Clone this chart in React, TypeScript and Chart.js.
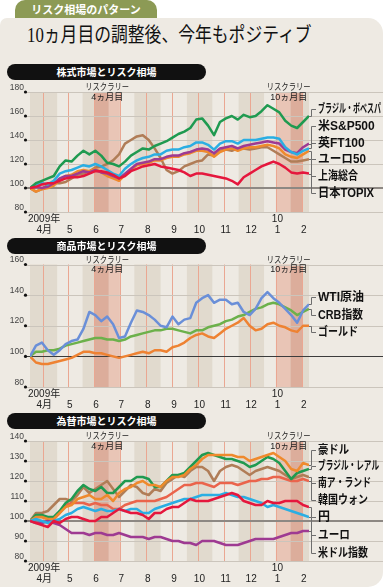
import React, { useEffect, useRef } from 'react';
import { Chart, registerables } from 'chart.js';
Chart.register(...registerables);

// ---------- data ----------
const weekDates = [
  '2009-03-17', '2009-03-24', '2009-03-31', '2009-04-07', '2009-04-14', '2009-04-21', '2009-04-28',
  '2009-05-05', '2009-05-12', '2009-05-19', '2009-05-26', '2009-06-02', '2009-06-09', '2009-06-16',
  '2009-06-23', '2009-06-30', '2009-07-07', '2009-07-14', '2009-07-21', '2009-07-28', '2009-08-04',
  '2009-08-11', '2009-08-18', '2009-08-25', '2009-09-01', '2009-09-08', '2009-09-15', '2009-09-22',
  '2009-09-29', '2009-10-06', '2009-10-13', '2009-10-20', '2009-10-27', '2009-11-03', '2009-11-10',
  '2009-11-17', '2009-11-24', '2009-12-01', '2009-12-08', '2009-12-15', '2009-12-22', '2009-12-29',
  '2010-01-05', '2010-01-12', '2010-01-19', '2010-01-26', '2010-02-02', '2010-02-09',
];

// 株式市場
const stockNames = ['ブラジル・ボベスパ', '米S&P500', '英FT100', 'ユーロ50', '上海総合', '日本TOPIX'];
const bovespa = [100, 104, 106, 108, 110, 118, 123, 122, 127, 131, 128, 131, 127, 121, 120, 118, 122, 127, 130, 133, 132, 135, 137, 139, 142, 145, 147, 150, 157, 158, 152, 144, 155, 158, 160, 157, 161, 159, 160, 164, 169, 166, 163, 156, 152, 150, 155, 160];
const sp500 = [100, 103, 104, 103, 106, 112, 114, 115, 117, 119, 118, 120, 118, 115, 112, 110, 116, 120, 123, 125, 126, 128, 128, 131, 132, 132, 134, 135, 138, 138, 136, 132, 137, 139, 139, 137, 140, 140, 140, 141, 142, 142, 141, 134, 130, 128, 131, 133];
const ft100 = [100, 101, 100, 101, 104, 108, 110, 110, 112, 114, 113, 115, 113, 112, 110, 108, 112, 116, 120, 121, 122, 124, 124, 126, 127, 127, 129, 130, 132, 133, 132, 129, 133, 134, 135, 133, 135, 136, 137, 138, 139, 138, 137, 132, 130, 129, 134, 137];
const euro50 = [100, 97, 99, 100, 102, 107, 110, 111, 114, 115, 114, 116, 113, 110, 108, 106, 111, 115, 119, 120, 121, 123, 123, 125, 126, 126, 128, 129, 131, 131, 130, 126, 130, 132, 133, 131, 133, 134, 134, 135, 136, 135, 133, 128, 126, 125, 128, 131];
const shanghai = [100, 97, 99, 103, 104, 104, 105, 108, 111, 112, 114, 117, 118, 120, 123, 128, 137, 140, 143, 144, 140, 133, 125, 115, 112, 114, 118, 120, 122, 123, 128, 127, 131, 132, 131, 133, 133, 132, 133, 134, 134, 131, 128, 125, 122, 122, 123, 124];
const topix = [100, 101, 103, 104, 104, 106, 108, 109, 109, 110, 112, 114, 114, 113, 111, 108, 110, 114, 116, 118, 119, 120, 118, 117, 116, 115, 113, 110, 112, 112, 111, 110, 109, 108, 106, 103, 109, 112, 115, 118, 120, 122, 120, 117, 113, 112, 113, 112];

// 商品市場
const commodityNames = ['WTI原油', 'CRB指数', 'ゴールド'];
const wti = [100, 107, 109, 104, 101, 104, 108, 110, 111, 118, 129, 127, 123, 126, 121, 112, 113, 122, 130, 129, 127, 124, 120, 119, 126, 121, 124, 125, 135, 138, 140, 135, 137, 137, 134, 135, 129, 127, 131, 138, 142, 138, 135, 131, 127, 122, 130, 134];
const crb = [100, 103, 103, 104, 104, 105, 107, 108, 109, 110, 111, 112, 112, 111, 111, 110, 111, 113, 114, 115, 116, 117, 117, 118, 118, 117, 116, 115, 117, 117, 119, 120, 121, 123, 124, 126, 127, 129, 131, 132, 134, 135, 134, 132, 130, 127, 129, 131];
const gold = [100, 96, 95, 95, 96, 97, 98, 99, 101, 103, 103, 102, 102, 101, 100, 99, 100, 101, 102, 103, 102, 104, 104, 103, 106, 107, 109, 112, 114, 115, 113, 112, 115, 118, 120, 122, 125, 120, 117, 118, 121, 122, 120, 119, 117, 116, 120, 120];

// 為替市場
const fxNames = ['豪ドル', 'ブラジル・レアル', '南ア・ランド', '韓国ウォン', '円', 'ユーロ', '米ドル指数'];
const aud = [100, 102, 102, 101, 101, 104, 107, 108, 111, 112, 113, 111, 111, 113, 110, 114, 116, 117, 119, 120, 118, 118, 117, 120, 122, 122, 123, 126, 128, 131, 133, 133, 133, 133, 133, 132, 132, 130, 131, 132, 133, 134, 132, 130, 126, 125, 129, 128];
const brl = [100, 103, 103, 102, 102, 105, 109, 111, 115, 118, 116, 115, 117, 114, 114, 117, 120, 120, 122, 122, 121, 117, 117, 120, 123, 123, 124, 127, 130, 133, 134, 133, 132, 131, 131, 130, 129, 127, 128, 130, 132, 131, 129, 125, 121, 124, 125, 126];
const zar = [100, 104, 104, 105, 108, 111, 111, 110, 113, 117, 114, 116, 118, 120, 116, 112, 115, 118, 117, 114, 113, 116, 115, 119, 121, 123, 122, 125, 127, 127, 125, 120, 125, 127, 128, 127, 125, 123, 125, 126, 127, 126, 125, 123, 121, 122, 123, 122];
const krw = [100, 102, 102, 101, 101, 104, 108, 109, 109, 109, 108, 109, 108, 108, 106, 106, 108, 109, 110, 110, 110, 110, 111, 112, 114, 116, 118, 118, 119, 119, 118, 117, 119, 119, 119, 118, 119, 120, 120, 121, 121, 122, 122, 121, 120, 120, 121, 120];
const jpy = [100, 99, 98, 97, 100, 99, 101, 102, 102, 101, 100, 100, 102, 102, 104, 106, 105, 104, 104, 103, 101, 104, 104, 106, 107, 107, 109, 111, 110, 110, 110, 111, 112, 113, 114, 113, 110, 109, 108, 108, 110, 109, 109, 110, 110, 110, 108, 107];
const eur = [100, 101, 100, 99, 100, 101, 103, 104, 106, 107, 106, 105, 106, 105, 105, 106, 105, 106, 106, 104, 104, 106, 107, 108, 109, 110, 111, 111, 112, 113, 113, 113, 113, 114, 113, 112, 112, 111, 110, 109, 107, 108, 107, 106, 105, 104, 103, 102];
const usdIndex = [100, 99, 99, 100, 99, 98, 96, 94, 94, 94, 93, 94, 94, 93, 93, 94, 93, 92, 92, 92, 91, 92, 92, 91, 90, 90, 89, 89, 88, 90, 90, 90, 89, 88, 88, 88, 89, 90, 91, 91, 91, 91, 92, 93, 94, 94, 95, 95];

// axis labels
const monthTickDates = ['2009-04-01', '2009-05-01', '2009-06-01', '2009-07-01', '2009-08-01', '2009-09-01', '2009-10-01', '2009-11-01', '2009-12-01', '2010-01-01', '2010-02-01'];
const monthTickLabels = ['4月', '5', '6', '7', '8', '9', '10', '11', '12', '1', '2'];
const yearLabel = '2009年';
const nextYearLabel = '10';
const nextYearDate = '2010-01-01';

// shaded periods
const bandStarts = ['2009-03-17', '2009-05-18', '2009-06-01', '2009-06-18', '2009-07-18', '2009-09-18', '2009-11-18', '2010-01-01', '2010-01-18', '2010-02-01'];
const bandEnds = ['2009-04-18', '2009-06-01', '2009-06-18', '2009-07-01', '2009-08-18', '2009-10-18', '2009-12-18', '2010-01-18', '2010-02-01', '2010-02-09'];
const bandKinds = ['tan', 'tan', 'rallyDark', 'rallyLight', 'tan', 'tan', 'tan', 'rallyLight', 'rallyDark', 'tan'];

const rallyTitle = 'リスクラリー';
const rallyDates = ['2009-06-16', '2010-01-16'];
const rallyMonths = ['4ヵ月目', '10ヵ月目'];

// ---------- styling ----------
const CJK = '"Noto Sans CJK JP", "Noto Sans", sans-serif';
const LAT = '"Liberation Sans", Arial, "Noto Sans CJK JP", sans-serif';
const BAND_COLORS: Record<string, string> = { tan: '#e1dace', rallyDark: '#dcad9b', rallyLight: '#e9c5b6' };
const CARD = '#eeeae3';

const dayOf = (s: string) => {
  const [y, m, d] = s.split('-').map(Number);
  return (Date.UTC(y, m - 1, d) - Date.UTC(2009, 3, 1)) / 86400000;
};

type Series = { name: string; values: number[]; color: string; order: number; labelWidth: number };
type Panel = {
  title: string; pillTop: number; top: number; height: number; padTop: number; padBottom: number;
  yMin: number; yMax: number; yStep: number; baseColor: string; baseWidth: number;
  labelYs: number[]; series: Series[];
};

const panels: Panel[] = [
  {
    title: '株式市場とリスク相場', pillTop: 64, top: 80, height: 155, padTop: 12, padBottom: 23,
    yMin: 80, yMax: 180, yStep: 20, baseColor: '#8d8883', baseWidth: 2,
    labelYs: [109, 126, 143, 159, 176, 193],
    series: [
      { name: stockNames[0], values: bovespa, color: '#1f9a50', order: 1, labelWidth: 63 },
      { name: stockNames[1], values: sp500, color: '#2aaee3', order: 2, labelWidth: 58 },
      { name: stockNames[2], values: ft100, color: '#9e3a92', order: 3, labelWidth: 53 },
      { name: stockNames[3], values: euro50, color: '#ef8a2d', order: 4, labelWidth: 48 },
      { name: stockNames[4], values: shanghai, color: '#b07d57', order: 5, labelWidth: 40 },
      { name: stockNames[5], values: topix, color: '#e5173d', order: 0, labelWidth: 56 },
    ],
  },
  {
    title: '商品市場とリスク相場', pillTop: 238, top: 252, height: 158, padTop: 12.5, padBottom: 23,
    yMin: 80, yMax: 160, yStep: 20, baseColor: '#3c3c3c', baseWidth: 1,
    labelYs: [297, 315, 332],
    series: [
      { name: commodityNames[0], values: wti, color: '#6a8fd8', order: 0, labelWidth: 46 },
      { name: commodityNames[1], values: crb, color: '#6cb14b', order: 1, labelWidth: 45 },
      { name: commodityNames[2], values: gold, color: '#ee8232', order: 2, labelWidth: 40 },
    ],
  },
  {
    title: '為替市場とリスク相場', pillTop: 413, top: 429, height: 158, padTop: 12, padBottom: 26,
    yMin: 80, yMax: 140, yStep: 10, baseColor: '#8d8883', baseWidth: 2,
    labelYs: [450, 466, 483, 500, 517, 535, 553],
    series: [
      { name: fxNames[0], values: aud, color: '#ef8a2d', order: 3, labelWidth: 31 },
      { name: fxNames[1], values: brl, color: '#1f9a50', order: 4, labelWidth: 61 },
      { name: fxNames[2], values: zar, color: '#b07d57', order: 5, labelWidth: 53 },
      { name: fxNames[3], values: krw, color: '#ea644c', order: 6, labelWidth: 50 },
      { name: fxNames[4], values: jpy, color: '#e5173d', order: 0, labelWidth: 13 },
      { name: fxNames[5], values: eur, color: '#2aaee3', order: 1, labelWidth: 32 },
      { name: fxNames[6], values: usdIndex, color: '#9e3a92', order: 2, labelWidth: 50 },
    ],
  },
];

function decorPlugin(panel: Panel) {
  return {
    id: 'decor',
    beforeDatasetsDraw(chart: any) {
      const { ctx, chartArea: a, scales } = chart;
      const x = scales.x, y = scales.y;
      ctx.save();
      for (let i = 0; i < bandStarts.length; i++) {
        const x1 = x.getPixelForValue(dayOf(bandStarts[i]));
        const x2 = x.getPixelForValue(dayOf(bandEnds[i]));
        ctx.fillStyle = BAND_COLORS[bandKinds[i]];
        ctx.fillRect(x1, a.top, x2 - x1, a.bottom - a.top);
      }
      ctx.strokeStyle = '#eaa792';
      ctx.lineWidth = 1;
      for (const d of monthTickDates) {
        const px = Math.round(x.getPixelForValue(dayOf(d))) + 0.5;
        ctx.beginPath(); ctx.moveTo(px, a.top); ctx.lineTo(px, a.bottom); ctx.stroke();
      }
      for (let v = panel.yMin; v <= panel.yMax; v += panel.yStep) {
        const py = y.getPixelForValue(v);
        const base = v === 100;
        ctx.strokeStyle = base ? panel.baseColor : '#cbc5bc';
        ctx.lineWidth = base ? panel.baseWidth : 1;
        const yy = base && panel.baseWidth > 1.5 ? Math.round(py) : Math.round(py) + 0.5;
        ctx.beginPath(); ctx.moveTo(25, yy); ctx.lineTo(383, yy); ctx.stroke();
        ctx.fillStyle = '#111';
        ctx.beginPath(); ctx.arc(25.5, py, 1.6, 0, Math.PI * 2); ctx.fill();
        ctx.fillStyle = '#444';
        ctx.font = '8.5px ' + LAT;
        ctx.textAlign = 'right';
        ctx.textBaseline = 'alphabetic';
        ctx.fillText(String(v), 24, py - 2.5);
      }
      ctx.fillStyle = '#222';
      ctx.font = '10px ' + LAT;
      ctx.textBaseline = 'middle';
      ctx.textAlign = 'left';
      ctx.fillText(yearLabel, 28, a.bottom + 7.5);
      ctx.textAlign = 'center';
      ctx.fillText(nextYearLabel, x.getPixelForValue(dayOf(nextYearDate)) + 1.5, a.bottom + 7.5);
      monthTickDates.forEach((d, i) => {
        ctx.fillText(monthTickLabels[i], x.getPixelForValue(dayOf(d)) + 1.5, a.bottom + 18);
      });
      ctx.restore();
    },
    afterDatasetsDraw(chart: any) {
      const { ctx, chartArea: a, scales } = chart;
      const x = scales.x, y = scales.y;
      ctx.save();
      ctx.fillStyle = '#222';
      ctx.textAlign = 'center';
      ctx.textBaseline = 'middle';
      rallyDates.forEach((d, i) => {
        const cx = x.getPixelForValue(dayOf(d));
        ctx.font = '9px ' + CJK;
        ctx.fillText(rallyTitle, cx, a.top - 5, 44);
        ctx.font = '9px ' + LAT;
        ctx.fillText(rallyMonths[i], cx, a.top + 5.5);
      });
      const lastX = x.getPixelForValue(dayOf(weekDates[weekDates.length - 1]));
      const vx = Math.round(lastX + 1.5) + 0.5;
      ctx.strokeStyle = '#6e6e6e';
      ctx.lineWidth = 1;
      panel.series.forEach((s, i) => {
        const ye = Math.round(y.getPixelForValue(s.values[s.values.length - 1])) + 0.5;
        const yl = panel.labelYs[i] - panel.top;
        const yls = Math.round(yl) + 0.5;
        ctx.beginPath();
        ctx.moveTo(lastX, ye); ctx.lineTo(vx, ye); ctx.lineTo(vx, yls); ctx.lineTo(316, yls);
        ctx.stroke();
        ctx.font = 'bold 12px ' + LAT;
        ctx.textAlign = 'left';
        ctx.fillStyle = '#111';
        ctx.fillText(s.name, 318, yl + 0.5, s.labelWidth);
      });
      ctx.restore();
    },
  };
}

function PanelChart({ panel }: { panel: Panel }) {
  const ref = useRef<HTMLCanvasElement>(null);
  useEffect(() => {
    const canvas = ref.current;
    if (!canvas) return;
    const xs = weekDates.map(dayOf);
    const chart = new Chart(canvas, {
      type: 'line',
      data: {
        datasets: panel.series.map((s) => ({
          label: s.name,
          data: s.values.map((v, i) => ({ x: xs[i], y: v })),
          borderColor: s.color,
          borderWidth: 2.5,
          pointRadius: 0,
          tension: 0,
          fill: false,
          order: s.order,
          borderJoinStyle: 'round',
        })),
      },
      options: {
        animation: false,
        responsive: false,
        maintainAspectRatio: false,
        devicePixelRatio: 1,
        events: [],
        layout: { padding: { left: 30, right: 74, top: panel.padTop, bottom: panel.padBottom } },
        plugins: { legend: { display: false }, tooltip: { enabled: false } },
        scales: {
          x: { type: 'linear', display: false, min: xs[0], max: xs[xs.length - 1] },
          y: { type: 'linear', display: false, min: panel.yMin, max: panel.yMax },
        },
      } as any,
      plugins: [decorPlugin(panel)],
    } as any);
    return () => chart.destroy();
  }, [panel]);
  return (
    <canvas
      ref={ref}
      width={383}
      height={panel.height}
      style={{ position: 'absolute', left: 0, top: panel.top, width: 383, height: panel.height }}
    />
  );
}

export default function App() {
  return (
    <div style={{ position: 'absolute', left: 0, top: 0, width: 383, height: 587, background: '#ffffff', overflow: 'hidden' }}>
      <div style={{
        position: 'absolute', left: 15, top: 0, width: 142, height: 19, background: '#8c9a55',
        borderRadius: '10px 10px 0 0', color: '#fff', fontFamily: CJK, fontWeight: 700, fontSize: 11,
        lineHeight: '19px', textAlign: 'center', whiteSpace: 'nowrap',
      }}>リスク相場のパターン</div>
      <div style={{
        position: 'absolute', left: 0, top: 18, width: 383, height: 569, background: CARD,
        borderRadius: '7px 15px 15px 0',
      }} />
      <div style={{
        position: 'absolute', left: 27, top: 24, fontFamily: '"Liberation Serif", "Noto Sans CJK JP", serif',
        fontSize: 20, lineHeight: '22px', color: '#111', whiteSpace: 'nowrap',
        transform: 'scaleX(0.84)', transformOrigin: 'left center',
      }}>10ヵ月目の調整後、今年もポジティブ</div>
      {panels.map((p) => <PanelChart key={p.title} panel={p} />)}
      {panels.map((p) => (
        <div key={'pill' + p.title} style={{
          position: 'absolute', left: 7, top: p.pillTop, width: 199, height: 16, background: '#111',
          borderRadius: 8, color: '#fff', fontFamily: CJK, fontWeight: 700, fontSize: 10,
          lineHeight: '16px', textAlign: 'center', whiteSpace: 'nowrap',
        }}>{p.title}</div>
      ))}
    </div>
  );
}
